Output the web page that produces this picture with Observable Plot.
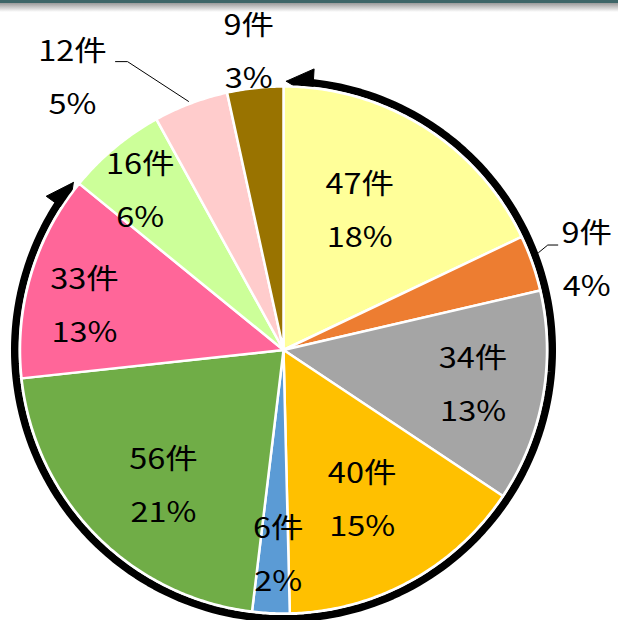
<!DOCTYPE html>
<html><head><meta charset="utf-8">
<script src="https://cdn.jsdelivr.net/npm/d3@7"></script>
<script src="https://cdn.jsdelivr.net/npm/@observablehq/plot@0.6"></script>
<style>
html,body{margin:0;padding:0;background:#fff;}
#wrap{position:relative;width:618px;height:620px;overflow:hidden;}
#band{position:absolute;left:0;top:0;width:618px;height:12px;background:linear-gradient(#3e6668 0px,#3e6668 3px,#9a9a9a 3px,#ffffff 12px);}
</style></head><body>
<div id="wrap"><div id="chart"></div><div id="band"></div></div>
<script>
// ---- data ----
const categories = ["c1","c2","c3","c4","c5","c6","c7","c8","c9","c10"];
const values = [47, 9, 34, 40, 6, 56, 33, 16, 12, 9];
const countLabels = ["47件","9件","34件","40件","6件","56件","33件","16件","12件","9件"];
const percentLabels = ["18%","4%","13%","15%","2%","21%","13%","6%","5%","3%"];
const colors = ["#FFFF99","#ED7D31","#A5A5A5","#FFC000","#5B9BD5","#70AD47","#FF6699","#CCFF99","#FFCCCC","#997300"];

// ---- layout ----
const PX = 1 / 263.5;                 // one pixel in pie-radius units
const labelRadius = [0.60, 1.20, 0.732, 0.645, 0.78, 0.69, 0.773, 0.81, 1.306, 1.137];
const labelAngleNudge = [-3.5, 2.8, 0.3, 1.3, -1.3, -4.0, -4.3, -2.3, -17.2, -0.5];
const lineGap = 26.5 * PX;
const leaders = [
  {slice: 1, startR: 1.036, startNudge: -1.66, elbowDx: -39, endDx: -29, dy: 11},
  {slice: 8, startR: 1.01, startNudge: -0.3, elbowDx: 55, endDx: 43, dy: 10}
];
const arrowSpan = [0, 6];   // arrow runs from start of slice 0 to end of slice 6
const arcR = 1.02, headLen = 27 * PX, headHalf = 14 * PX, tipGap = 0.6 * Math.PI / 180;

// ---- geometry ----
const rad = d => d * Math.PI / 180;
const polar = (a, r) => [r * Math.sin(a), r * Math.cos(a)];
const pie = d3.pie().sort(null).value(d => d)(values);

const slicePts = pie.flatMap((p, i) => {
  const n = Math.max(4, Math.ceil((p.endAngle - p.startAngle) * 180 / Math.PI * 2));
  const pts = [{k: categories[i], x: 0, y: 0}];
  for (let j = 0; j <= n; j++) {
    const [x, y] = polar(p.startAngle + (p.endAngle - p.startAngle) * j / n, 1);
    pts.push({k: categories[i], x, y});
  }
  pts.push({k: categories[i], x: 0, y: 0});
  return pts;
});

const labelCenters = pie.map((p, i) => {
  const a = (p.startAngle + p.endAngle) / 2 + rad(labelAngleNudge[i]);
  const [x, y] = polar(a, labelRadius[i]);
  return {x, y};
});
const labelData = labelCenters.flatMap((c, i) => [
  {t: countLabels[i], x: c.x, y: c.y + lineGap},
  {t: percentLabels[i], x: c.x, y: c.y - lineGap}
]);

const leaderPts = leaders.flatMap((L, j) => {
  const p = pie[L.slice];
  const [sx, sy] = polar((p.startAngle + p.endAngle) / 2 + rad(L.startNudge), L.startR);
  const c = labelCenters[L.slice];
  const ly = c.y + lineGap - L.dy * PX;
  return [
    {g: j, x: sx, y: sy},
    {g: j, x: c.x + L.elbowDx * PX, y: ly},
    {g: j, x: c.x + L.endDx * PX, y: ly}
  ];
});

const a0 = pie[arrowSpan[0]].startAngle + tipGap;
const a1 = pie[arrowSpan[1]].endAngle - tipGap;
const dA = headLen / arcR;
const shaft = [];
{
  const s = a0 + dA * 0.7, e = a1 - dA * 0.7, n = 200;
  for (let j = 0; j <= n; j++) { const [x, y] = polar(s + (e - s) * j / n, arcR); shaft.push({x, y}); }
}
function head(aTip, aBase, g) {
  const [tx, ty] = polar(aTip, arcR);
  const [bx, by] = polar(aBase, arcR);
  let dx = tx - bx, dy = ty - by; const l = Math.hypot(dx, dy); dx /= l; dy /= l;
  const nx = -dy, ny = dx;
  return [
    {g, x: tx, y: ty},
    {g, x: bx + nx * headHalf, y: by + ny * headHalf},
    {g, x: bx - nx * headHalf, y: by - ny * headHalf},
    {g, x: tx, y: ty}
  ];
}
const heads = [...head(a0, a0 + dA, 0), ...head(a1, a1 - dA, 1)];

const plot = Plot.plot({
  width: 618, height: 620, margin: 0,
  x: {domain: [-283 * PX, (618 - 283) * PX], axis: null},
  y: {domain: [(349.5 - 620) * PX, 349.5 * PX], axis: null},
  color: {type: "ordinal", domain: categories, range: colors},
  style: {background: "transparent", overflow: "visible"},
  marks: [
    Plot.line(shaft, {x: "x", y: "y", stroke: "black", strokeWidth: 7.5, strokeLinecap: "butt"}),
    Plot.line(heads, {x: "x", y: "y", z: "g", fill: "black", stroke: "black", strokeWidth: 1}),
    Plot.line(slicePts, {x: "x", y: "y", z: "k", fill: "k", stroke: "white", strokeWidth: 2.5, strokeLinejoin: "round"}),
    Plot.line(leaderPts, {x: "x", y: "y", z: "g", stroke: "black", strokeWidth: 1}),
    Plot.text(labelData, {x: "x", y: "y", text: "t", fontSize: 28, fontWeight: 400, fill: "black",
      fontFamily: "'Noto Sans CJK JP', 'Noto Sans', sans-serif", lineAnchor: "middle", textAnchor: "middle"})
  ]
});
document.getElementById("chart").appendChild(plot);

// horizontally widened lettering as in the reference
plot.querySelectorAll("g[aria-label='text'] text").forEach(t => {
  const tr = t.getAttribute("transform");
  if (tr) t.setAttribute("transform", tr + " scale(1.16,1)");
  else {
    const x = t.getAttribute("x") || 0, y = t.getAttribute("y") || 0;
    t.removeAttribute("x"); t.removeAttribute("y");
    t.setAttribute("transform", `translate(${x},${y}) scale(1.16,1)`);
  }
});
</script>
</body></html>
